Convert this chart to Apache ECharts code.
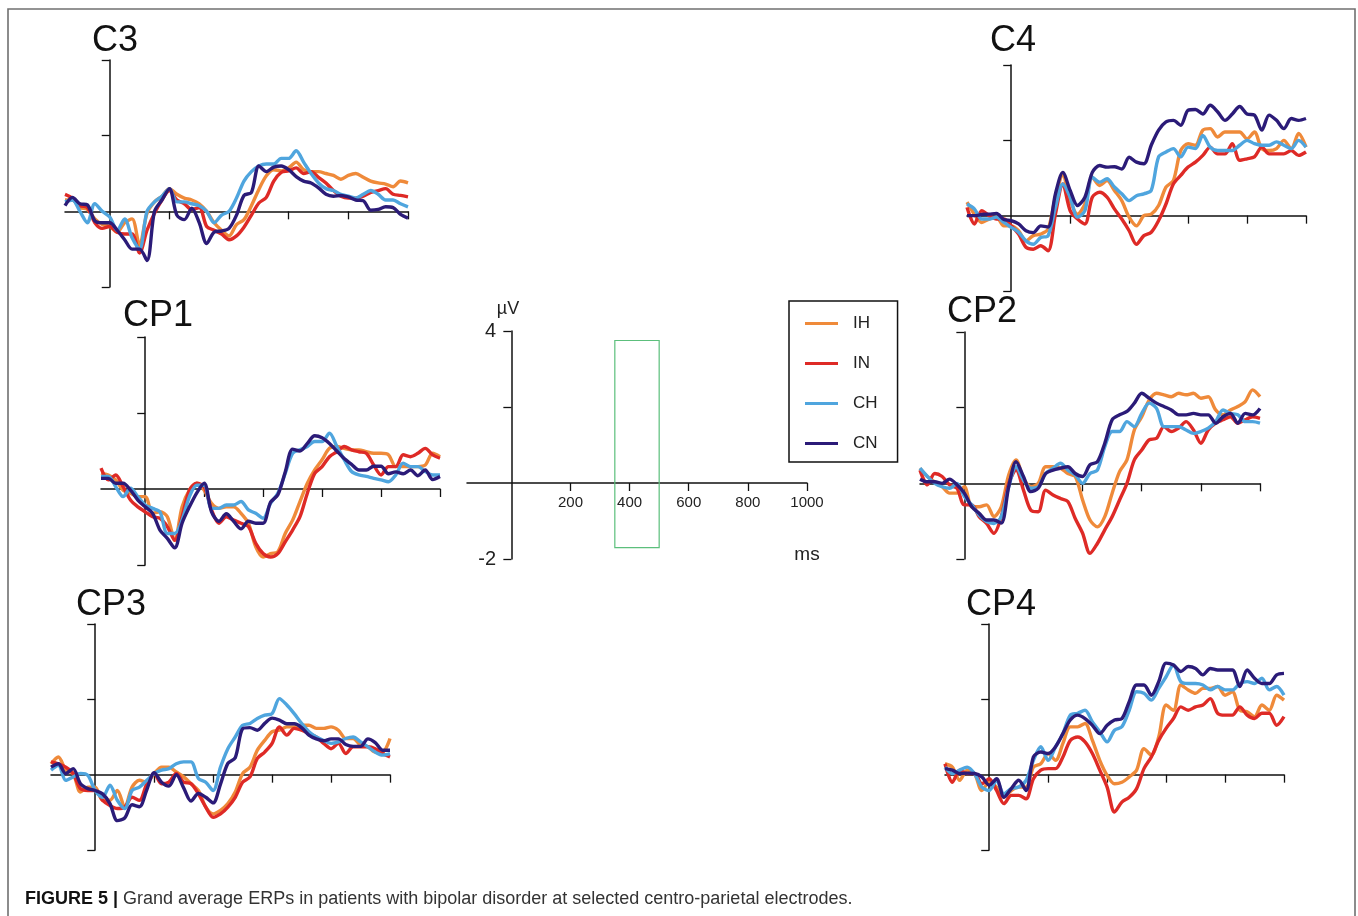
<!DOCTYPE html>
<html>
<head>
<meta charset="utf-8">
<title>ERPs at centro-parietal electrodes</title>
<script src="https://cdn.jsdelivr.net/npm/echarts@6/dist/echarts.min.js"></script>
<style>
  html, body { margin: 0; padding: 0; background: #fff; }
  #chart { width: 1358px; height: 916px; }
</style>
</head>
<body>
<div id="chart"></div>
<script>
// sample times (ms) shared by every panel
const times = [-150,-125,-100,-75,-50,-25,0,25,50,75,100,125,150,175,200,225,250,275,300,325,350,375,400,425,450,475,500,525,550,575,600,625,650,675,700,725,750,775,800,825,850,875,900,925,950,975,1000];
const groups = ['IH', 'IN', 'CH', 'CN'];
const xTicks = [200, 400, 600, 800, 1000];
const yTicks = [-2, 2, 4];
const scaleYLabels = [4, -2];
// analysis window drawn in the scale panel
const boxTime = [350, 500];
const boxVolt = [-1.7, 3.75];

// µV values
const C3_IH = [0.3,0.3,0.1,0.05,-0.2,-0.35,-0.4,-0.55,-0.3,-0.2,-0.9,-0.05,0.25,0.4,0.6,0.45,0.35,0.3,0.2,0.0,-0.3,-0.5,-0.65,-0.35,-0.22,0.15,0.58,0.94,1.1,1.07,1.15,1.3,1.1,1.05,1.05,1.0,0.95,0.85,0.95,1.0,0.9,0.8,0.75,0.72,0.65,0.8,0.75];
const C3_IN = [0.45,0.35,0.15,0.1,-0.3,-0.45,-0.4,-0.55,-0.6,-0.6,-1.1,-0.5,-0.05,0.3,0.55,0.3,0.2,0.05,0.1,-0.4,-0.5,-0.6,-0.75,-0.65,-0.42,-0.1,0.22,0.37,0.8,1.03,1.07,1.15,1.0,1.05,0.9,0.75,0.55,0.4,0.35,0.35,0.4,0.5,0.55,0.6,0.45,0.42,0.38];
const C3_CH = [0.25,0.3,0.0,-0.3,0.2,0.0,-0.15,-0.5,-0.2,-0.7,-1.0,0.0,0.25,0.4,0.6,0.25,0.25,0.2,0.15,0.0,-0.3,-0.1,0.0,0.35,0.8,1.05,1.2,1.25,1.25,1.4,1.4,1.6,1.3,1.0,0.75,0.6,0.55,0.45,0.4,0.35,0.45,0.55,0.45,0.3,0.3,0.2,0.12];
const C3_CN = [0.15,0.37,0.2,0.17,-0.25,-0.3,-0.3,-0.5,-0.75,-1.0,-1.0,-1.3,0.0,0.3,0.6,-0.1,-0.22,0.08,-0.3,-0.85,-0.55,-0.52,-0.45,-0.1,0.42,0.5,1.2,1.05,1.17,1.2,1.1,0.92,0.8,0.75,0.62,0.45,0.4,0.42,0.38,0.3,0.28,0.03,0.05,0.12,0.1,-0.08,-0.18];

const C4_IH = [0.36,0.04,-0.18,-0.09,-0.04,-0.27,-0.27,-0.4,-0.67,-0.53,-0.49,-0.36,0.49,1.07,0.4,0.04,0.31,1.02,0.8,0.93,0.67,0.4,-0.04,-0.27,0,0.04,0.27,0.76,0.93,1.73,1.91,1.87,2.27,2.31,2.09,2.22,2.22,2.22,2.04,2.22,1.78,1.73,1.78,2.0,1.78,2.18,1.82];
const C4_IN = [0.22,-0.22,0.13,0,-0.09,-0.09,-0.27,-0.49,-0.84,-0.89,-0.8,-0.93,0.04,0.84,0.13,-0.09,-0.22,0.49,0.62,0.49,0.18,-0.09,-0.4,-0.76,-0.53,-0.44,-0.13,0.31,0.84,1.07,1.29,1.42,1.6,1.82,1.64,1.64,1.91,1.47,1.51,1.56,1.82,1.64,1.64,1.64,1.73,1.6,1.69];
const C4_CH = [0.31,0.18,-0.09,-0.09,-0.04,-0.18,-0.31,-0.44,-0.67,-0.76,-0.58,-0.53,0.22,0.84,0.49,-0.04,0.13,1.02,0.89,0.98,0.76,0.58,0.4,0.53,0.58,0.67,1.56,1.69,1.78,1.56,1.82,1.78,2.13,1.82,1.73,1.73,1.73,1.87,2.0,1.91,1.87,1.87,1.96,1.87,1.78,2.0,1.82];
const C4_CN = [0,0,0.03,0.04,0.06,-0.1,-0.13,-0.22,-0.4,-0.45,-0.27,-0.3,0.58,1.15,0.67,0.27,0.49,1.15,1.33,1.29,1.3,1.24,1.55,1.42,1.38,1.87,2.27,2.49,2.53,2.4,2.8,2.82,2.7,2.93,2.76,2.53,2.7,2.9,2.7,2.67,2.27,2.67,2.53,2.31,2.58,2.53,2.58];

const CP1_IH = [0.41,0.37,0.24,-0.03,-0.11,-0.2,-0.2,-0.64,-0.6,-0.73,-1.35,-0.47,-0.03,0.15,-0.03,-0.38,-0.51,-0.47,-0.47,-0.64,-0.9,-1.52,-1.79,-1.7,-1.65,-1.17,-0.82,-0.33,0.15,0.5,0.77,1.07,1.12,1.07,1.03,1.03,0.98,0.94,0.94,0.9,0.59,0.59,0.59,0.59,0.63,0.94,0.85];
const CP1_IN = [0.55,0.24,0.37,0.06,-0.29,-0.47,-0.6,-0.73,-0.77,-0.99,-1.35,-0.73,-0.03,0.15,0.06,-0.55,-0.9,-0.73,-0.82,-0.9,-0.99,-1.43,-1.7,-1.79,-1.7,-1.39,-1.08,-0.73,-0.11,0.41,0.59,0.85,0.98,1.12,1.03,0.98,0.94,0.63,0.37,0.59,0.59,0.9,0.85,0.94,1.07,0.9,0.81];
const CP1_CH = [0.33,0.33,0.06,-0.2,0.02,-0.2,-0.42,-0.51,-0.6,-1.17,-1.17,-0.82,-0.2,0.1,0.1,-0.51,-0.51,-0.42,-0.42,-0.33,-0.55,-0.64,-0.77,-0.38,-0.11,0.41,0.94,1.03,1.12,1.25,1.25,1.47,1.12,0.77,0.46,0.37,0.33,0.28,0.24,0.19,0.37,0.68,0.59,0.59,0.46,0.37,0.37];
const CP1_CN = [0.28,0.28,0.15,0.15,-0.03,-0.29,-0.47,-0.64,-1.08,-1.3,-1.55,-0.9,-0.47,-0.1,0.15,-0.6,-0.85,-0.65,-0.85,-1.05,-0.85,-0.9,-0.9,-0.35,-0.15,0.45,1.05,1.0,1.2,1.4,1.35,1.2,1.0,0.8,0.65,0.5,0.5,0.6,0.6,0.4,0.45,0.4,0.5,0.35,0.5,0.25,0.33];

const CP2_IH = [0.4,0.18,0.04,-0.09,-0.26,-0.26,-0.09,-0.62,-0.62,-0.57,-0.88,-0.62,0.22,0.62,0.13,-0.09,0,0.44,0.44,0.4,0.26,0.18,-0.44,-0.97,-1.15,-0.88,-0.26,0.31,0.62,1.41,1.76,2.2,2.38,2.34,2.29,2.38,2.34,2.38,2.25,2.29,1.94,1.81,1.94,2.03,2.16,2.47,2.29];
const CP2_IN = [0.35,-0.04,0.26,0.18,-0.04,-0.13,-0.57,-0.57,-0.88,-1.06,-1.32,-0.88,0,0.35,-0.18,-0.71,-0.75,-0.18,-0.31,-0.4,-0.48,-0.93,-1.32,-1.85,-1.59,-1.23,-0.88,-0.44,0,0.62,0.88,1.15,1.19,1.5,1.37,1.46,1.63,1.41,1.06,1.41,1.59,1.68,1.76,1.59,1.68,1.76,1.72];
const CP2_CH = [0.4,0.18,0,-0.09,-0.13,0,-0.35,-0.57,-0.84,-1.01,-1.06,-0.88,-0.09,0.44,0.09,-0.13,-0.09,0.26,0.4,0.53,0.35,0.22,0,0.26,0.35,0.97,1.37,1.37,1.63,1.5,1.85,2.12,1.98,1.5,1.5,1.5,1.41,1.32,1.37,1.46,1.63,1.94,1.85,1.81,1.63,1.63,1.59];
const CP2_CN = [0.11,0.04,0.04,0,0.11,-0.04,-0.26,-0.62,-0.79,-0.97,-0.97,-1.05,-0.09,0.57,0.18,-0.22,-0.13,0.26,0.35,0.4,0.44,0.26,0.18,0.49,0.57,1.06,1.68,1.81,1.9,2.12,2.38,2.25,2.12,2.03,1.94,1.81,1.81,1.85,1.81,1.81,1.59,1.76,1.85,1.59,1.85,1.81,1.98];

const CP3_IH = [0.29,0.47,0.12,0.03,-0.46,-0.33,-0.33,-0.68,-0.68,-0.42,-0.86,-0.33,-0.15,-0.2,0.03,0.2,0.2,0.07,-0.06,-0.24,-0.42,-0.86,-1.04,-0.95,-0.77,-0.46,0.03,0.2,0.65,0.91,1.14,1.18,1.27,1.27,1.31,1.31,1.23,1.23,1.27,1.18,0.96,0.96,0.78,0.74,0.6,0.6,0.96];
const CP3_IN = [0.34,0.29,0.2,0.03,-0.37,-0.42,-0.42,-0.68,-0.82,-0.9,-0.86,-0.6,-0.68,-0.24,0.03,-0.24,-0.2,0.03,-0.2,-0.24,-0.51,-0.86,-1.13,-1.04,-0.86,-0.6,-0.2,-0.06,0.43,0.6,0.83,1.27,1.05,1.23,1.18,1.09,1.0,0.83,0.69,0.83,0.56,0.74,0.74,0.74,0.69,0.56,0.47];
const CP3_CH = [0.12,0.25,-0.15,-0.06,0.03,-0.02,-0.42,-0.6,-0.28,-0.68,-0.9,-0.42,-0.33,-0.15,0.03,0.12,0.16,0.29,0.34,0.34,-0.1,-0.2,-0.42,0.2,0.69,1.0,1.31,1.36,1.49,1.58,1.62,2.02,1.85,1.62,1.36,1.14,1.0,0.91,0.83,0.87,0.96,1.0,0.87,0.74,0.6,0.52,0.56];
const CP3_CN = [0.2,0.29,0.03,0.16,-0.24,-0.37,-0.42,-0.51,-0.77,-1.22,-1.15,-0.8,-0.85,-0.4,0.05,-0.2,-0.3,0.0,-0.35,-0.7,-0.5,-0.6,-0.75,-0.25,0.3,0.45,1.22,1.25,1.18,1.36,1.5,1.45,1.35,1.35,1.25,1.05,0.95,0.9,0.95,0.95,0.8,0.75,0.75,0.95,0.85,0.65,0.65];

const CP4_IH = [0.29,0.2,-0.15,0.12,0.03,-0.42,-0.2,-0.33,-0.6,-0.42,-0.33,-0.33,0.2,0.29,0.56,0.38,0.83,1.27,1.27,1.36,0.91,0.38,-0.02,-0.24,-0.2,-0.06,0.12,0.69,0.52,1.0,1.85,1.71,2.38,2.25,2.16,2.29,2.29,2.34,2.11,2.2,1.71,1.67,1.54,1.85,1.71,2.11,1.98];
const CP4_IN = [0.29,-0.2,0.12,0.03,0.03,-0.24,-0.11,-0.42,-0.77,-0.55,-0.55,-0.64,-0.11,0.12,0.16,0.16,0.47,0.91,1.0,0.87,0.56,0.12,-0.33,-0.99,-0.73,-0.6,-0.37,0.16,0.47,0.91,1.23,1.49,1.8,1.71,1.8,1.85,2.02,1.63,1.58,1.58,1.8,1.58,1.49,1.63,1.63,1.31,1.54];
const CP4_CH = [0.2,0.03,0.12,0.2,0.03,-0.33,-0.42,-0.15,-0.51,-0.37,-0.33,-0.15,0.38,0.74,0.38,0.74,1.09,1.58,1.63,1.71,1.4,1.14,0.87,1.18,1.27,1.71,2.2,2.16,1.98,2.29,2.6,2.91,2.47,2.42,2.42,2.38,2.25,2.34,2.25,2.25,2.42,2.47,2.42,2.56,2.25,2.34,2.11];
const CP4_CN = [0.16,0.12,0.03,0.04,0.03,-0.06,-0.28,-0.11,-0.6,-0.37,-0.15,-0.42,0.47,0.6,0.56,0.74,1.09,1.45,1.58,1.49,1.31,1.09,1.31,1.45,1.49,1.94,2.38,2.38,2.11,2.47,2.96,2.91,2.74,2.87,2.82,2.65,2.82,2.78,2.78,2.78,2.34,2.78,2.56,2.42,2.42,2.65,2.69];

const colors = { IH: '#ef8a3a', IN: '#de2a26', CH: '#4fa5de', CN: '#2b1b78' };
const FONT = "'Liberation Sans', Arial, sans-serif";
const axisColor = '#111';

const panels = [
  { name: 'C3',  grid: { left: 65,  top: 60,  width: 343, height: 227 }, label: [92, 41],   data: { IH: C3_IH, IN: C3_IN, CH: C3_CH, CN: C3_CN } },
  { name: 'C4',  grid: { left: 967, top: 65,  width: 339, height: 226 }, label: [990, 41],  data: { IH: C4_IH, IN: C4_IN, CH: C4_CH, CN: C4_CN } },
  { name: 'CP1', grid: { left: 101, top: 337, width: 339, height: 228 }, label: [123, 316], data: { IH: CP1_IH, IN: CP1_IN, CH: CP1_CH, CN: CP1_CN } },
  { name: 'CP2', grid: { left: 920, top: 332, width: 340, height: 227 }, label: [947, 312], data: { IH: CP2_IH, IN: CP2_IN, CH: CP2_CH, CN: CP2_CN } },
  { name: 'CP3', grid: { left: 51,  top: 624, width: 339, height: 226 }, label: [76, 605],  data: { IH: CP3_IH, IN: CP3_IN, CH: CP3_CH, CN: CP3_CN } },
  { name: 'CP4', grid: { left: 945, top: 624, width: 339, height: 226 }, label: [966, 605], data: { IH: CP4_IH, IN: CP4_IN, CH: CP4_CH, CN: CP4_CN } }
];
const scaleGrid = { left: 467, top: 331, width: 340, height: 228 };

function makeX(i, withLabels) {
  return {
    type: 'value', gridIndex: i, min: -150, max: 1000,
    axisLine: { show: true, onZero: true, lineStyle: { color: axisColor, width: 1.5 } },
    axisTick: { show: true, length: 8, customValues: xTicks, lineStyle: { color: axisColor, width: 1.3 } },
    // labels sit at the grid edge, so pull them up under the zero line
    axisLabel: withLabels
      ? { show: true, customValues: xTicks, fontSize: 15, color: '#222', margin: -64, fontFamily: FONT,
          formatter: v => String(v) }
      : { show: false },
    splitLine: { show: false }
  };
}
function makeY(i, withLabels) {
  return {
    type: 'value', gridIndex: i, min: -2, max: 4,
    axisLine: { show: true, onZero: true, lineStyle: { color: axisColor, width: 1.5 } },
    axisTick: { show: true, length: 8, customValues: yTicks, lineStyle: { color: axisColor, width: 1.3 } },
    axisLabel: withLabels
      ? { show: true, customValues: scaleYLabels, fontSize: 20, color: '#222', margin: -29, fontFamily: FONT,
          formatter: v => String(v) }
      : { show: false },
    splitLine: { show: false }
  };
}

const grids = [], xAxes = [], yAxes = [], series = [];
panels.forEach((p, i) => {
  grids.push(Object.assign({ containLabel: false }, p.grid));
  xAxes.push(makeX(i, false));
  yAxes.push(makeY(i, false));
  groups.forEach(g => {
    series.push({
      name: g, type: 'line', xAxisIndex: i, yAxisIndex: i,
      data: times.map((t, k) => [t, p.data[g][k]]),
      showSymbol: false, smooth: 0.3, silent: true,
      lineStyle: { width: 3.4, color: colors[g] },
      itemStyle: { color: colors[g] }
    });
  });
});

// scale / legend panel in the middle
const si = panels.length;
grids.push(Object.assign({ containLabel: false }, scaleGrid));
xAxes.push(makeX(si, true));
yAxes.push(makeY(si, true));
series.push({
  name: 'window', type: 'line', xAxisIndex: si, yAxisIndex: si, data: [],
  markArea: {
    silent: true,
    itemStyle: { color: 'rgba(0,0,0,0)', borderColor: '#5cbf7c', borderWidth: 1.2 },
    data: [[{ coord: [boxTime[0], boxVolt[1]] }, { coord: [boxTime[1], boxVolt[0]] }]]
  }
});

const graphic = [
  { type: 'rect', shape: { x: 8, y: 9, width: 1347, height: 1000 }, style: { fill: 'none', stroke: '#707070', lineWidth: 1.6 }, silent: true },
  { type: 'text', x: 508, y: 309, style: { text: 'µV', fontSize: 18, fontFamily: FONT, fill: '#222', align: 'center', verticalAlign: 'middle' } },
  { type: 'text', x: 807, y: 555, style: { text: 'ms', fontSize: 19, fontFamily: FONT, fill: '#222', align: 'center', verticalAlign: 'middle' } },
  { type: 'text', x: 25, y: 899, style: {
      text: '{b|FIGURE 5 |} Grand average ERPs in patients with bipolar disorder at selected centro-parietal electrodes.',
      fontSize: 18, fontFamily: FONT, fill: '#333', verticalAlign: 'middle',
      rich: { b: { fontSize: 18, fontFamily: FONT, fontWeight: 'bold', fill: '#111' } }
  } }
];
panels.forEach(p => {
  graphic.push({ type: 'text', x: p.label[0], y: p.label[1],
    style: { text: p.name, fontSize: 36, fontFamily: FONT, fill: '#111', align: 'left', verticalAlign: 'middle' } });
});

const chart = echarts.init(document.getElementById('chart'));
chart.setOption({
  animation: false,
  backgroundColor: '#fff',
  grid: grids,
  xAxis: xAxes,
  yAxis: yAxes,
  legend: {
    data: groups, orient: 'vertical', left: 789, top: 301,
    padding: [14, 20, 10, 16], itemGap: 23, itemWidth: 33, itemHeight: 3,
    icon: 'rect', selectedMode: false,
    borderColor: '#111', borderWidth: 1.5,
    textStyle: { fontSize: 17, color: '#222', fontFamily: FONT, padding: [0, 0, 0, 10] }
  },
  graphic: graphic,
  series: series
});
</script>
</body>
</html>
